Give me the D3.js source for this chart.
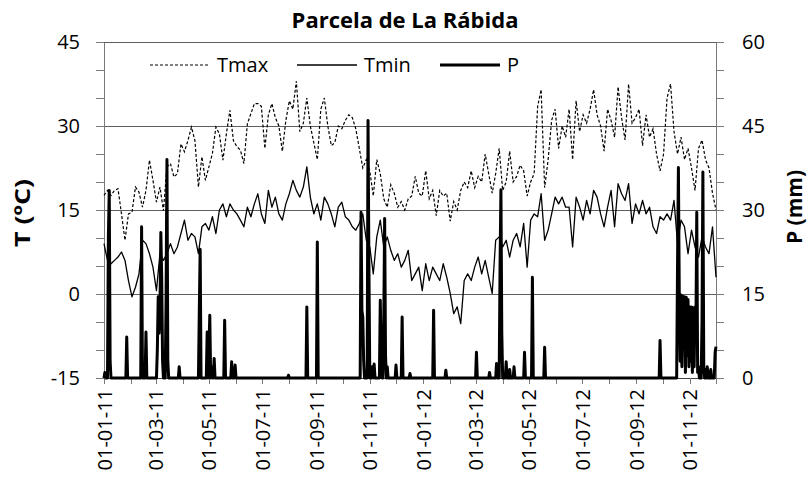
<!DOCTYPE html>
<html>
<head>
<meta charset="utf-8">
<script src="https://cdn.jsdelivr.net/npm/d3@7"></script>
<style>
  body { margin: 0; background: #fff; }
  text { font-family: "Open Sans", sans-serif; fill: #000; }
</style>
</head>
<body>
<div id="chart"></div>
<script>
// daily record, first and last day on the axis
const startDay = new Date(2011, 0, 1)
const endDay = new Date(2012, 11, 1)

// temperatures read every 4 days from 01-01-11
const tempStep = 4
const tmax = [
  17.6, 18.5, 17.6, 18.5, 18.8, 14.3, 9.6, 14.3, 14.6, 19.1, 18.2, 15.5, 18.5, 23.9, 20.3, 16.4,
  19.1, 14.9, 22.7, 23.3, 20.9, 21.5, 26.8, 25.4, 27.4, 29.8, 27.4, 19.1, 24.5, 20.3, 22.7, 25.1,
  29.8, 28.6, 23.9, 28.6, 32.8, 27.4, 26.3, 25.7, 23.3, 30.4, 32.2, 34.0,
  34, 33.5, 26, 32, 34, 31.5, 30, 25.5, 31, 34.5, 33, 38, 29, 30.5, 35, 30,
  27, 24, 33, 35, 30, 26.5, 27, 30, 29.5, 31, 32, 31.5, 29.5, 26, 22.5, 24,
  22, 17.5, 24, 21.5, 17, 15.5, 19.5, 18, 15.5, 16.5, 15, 17,
  17.5, 21, 18, 17.5, 22, 17, 18.5, 14, 18.5, 17.5, 18, 13, 16.5, 15, 18.5, 20,
  19, 22, 19, 21, 20, 25, 21.5, 18, 21.5, 26, 18.5, 20, 25.5, 20, 21, 23,
  22, 17.5, 20, 21.5, 33.5, 36.5, 19, 24, 31, 33, 26, 30, 28,
  33, 24, 34.5, 29, 32, 30.5, 33, 36.5, 32, 30, 25.5, 33, 31, 28, 37, 31.5,
  27.5, 37.5, 30.5, 31.5, 33, 26.5, 32, 28, 29.5, 25, 22, 25, 35, 37.5, 29, 25,
  28, 24, 26, 22.5, 18.5, 26, 27.5, 24, 22.5, 18, 15
]
const tmin = [
  9, 6, 5.4, 6, 6.6, 7.5, 6, 2.4, -0.5, 1.2, 3.6, 9.6, 9, 7.2, 4.8, 0.6,
  7.2, 6, 7.2, 9, 7.2, 8.4, 10.8, 13.2, 9.6, 10.8, 10.2, 7.2, 12, 12.6, 11.4, 13.8,
  10.8, 15, 16.1, 13.8, 16.1, 15, 14.3, 13.2, 12, 15.5, 13.8, 16.1,
  17.9, 14.3, 12.6, 18.5, 15.5, 17.3, 14.3, 13.2, 16.1, 17.9, 20.3, 18.5, 17.3, 19.1, 22.7, 17.3,
  14.3, 16.1, 13.2, 17.3, 16.1, 14.3, 12, 15.5, 16.4, 13.8, 13.2, 12, 11.4, 12.6, 14.3, 9.6,
  8.4, 3.6, 10.2, 13.2, 8.4, 10.2, 7.8, 6, 7.2, 4.8, 6, 7.8,
  2.4, 3.6, 4.8, 0.6, 5.4, 2.4, 4.8, 3.6, 2.4, 5.4, 3, 0.1, -3.5, -2.3, -5.3, 2.4,
  3.6, 2.4, 4.8, 6.6, 3.6, 6, 3, 0.1, 9.6, 10.2, 8.4, 9.6, 6.6, 9.6, 10.8, 8.4,
  12.6, 4.8, 13.2, 14.3, 13.8, 17.9, 9.6, 11.4, 14.3, 17.3, 16.1, 17.3, 15.5,
  15.5, 8.4, 17.3, 15.5, 13.2, 16.7, 14.3, 18.5, 17.3, 14.3, 12, 15.5, 18.5, 12, 19.7, 17.9,
  16.7, 19.7, 12.6, 16.1, 14.3, 16.7, 14.3, 15.5, 12, 10.8, 13.8, 13.2, 14.3, 13.2, 16.7, 9,
  13.2, 12, 7.2, 11.4, 8.4, 6.6, 10.2, 8.4, 7.2, 12, 3
]

// rainy days (days after 01-01-11) and amount in mm; all other days 0
const rainDay = [
  1, 5, 6, 7, 26, 43, 48, 61, 62, 63, 64, 65, 66, 67, 71, 72, 73, 86,
  109, 110, 118, 120, 121, 123, 126, 138, 146, 150, 211, 232, 244,
  294, 295, 296, 297, 302, 303, 305, 307, 309, 316, 317, 320, 321, 322, 324, 334, 341, 350,
  377, 391, 426, 441, 449, 453, 454, 455, 460, 464, 469, 481, 490, 504, 636,
  656, 657, 658, 659, 660, 661, 662, 663, 664, 665, 666, 667, 668, 669, 670, 671, 672, 673,
  674, 675, 676, 677, 678, 679, 680, 682, 684, 685, 686, 688, 690, 692, 694, 699, 700
]
const rainMM = [
  1, 25, 33.5, 3, 7.3, 27, 8.2, 5, 14.5, 8, 12, 26, 18, 3, 14, 39, 3, 2,
  12, 23, 8.2, 5, 11.2, 2, 3.5, 10.3, 2.9, 2.3, 0.5, 12.7, 24.3,
  29.6, 12, 10.9, 3, 46, 20, 2, 2, 2.5, 13.9, 5, 10, 28.5, 4, 2, 2.3, 10.9, 0.8,
  12.1, 1.4, 4.6, 1, 2.6, 20, 33.6, 8, 2.9, 1.5, 2, 4.6, 18, 5.5, 6.7,
  20, 37.6, 14.6, 3, 14.8, 2, 14.6, 6, 14.5, 1, 14.4, 4, 14, 2, 12.7, 3, 12.7, 1,
  12.5, 2, 12.7, 8, 29.6, 1, 2, 1.5, 10, 36.8, 2, 1.5, 2, 1, 1.5, 4.6, 5.6
]

const seriesNames = ["Tmax", "Tmin", "P"]
const tempTicks = [-15, 0, 15, 30, 45]
const rainTicks = [0, 15, 30, 45, 60]

// build the point lists
const tmaxPts = tmax.map((v, i) => ({ date: d3.timeDay.offset(startDay, i * tempStep), v }))
const tminPts = tmin.map((v, i) => ({ date: d3.timeDay.offset(startDay, i * tempStep), v }))
const nDays = d3.timeDay.count(startDay, endDay)
const rain = new Array(nDays + 1).fill(0)
rainDay.forEach((d, i) => { rain[d] = rainMM[i] })
const rainPts = rain.map((v, i) => ({ date: d3.timeDay.offset(startDay, i), v }))

// svg
const width = 809, height = 481
const plot = { left: 104, right: 716, top: 42, bottom: 378 }
const gridColor = "#5e5e5e"
const axisColor = "#7a7a7a"

const svg = d3.select("#chart").append("svg")
    .attr("width", width)
    .attr("height", height)

const x = d3.scaleTime().domain([startDay, endDay]).range([plot.left, plot.right])
const yT = d3.scaleLinear().domain([-15, 45]).range([plot.bottom, plot.top])
const yP = d3.scaleLinear().domain([0, 60]).range([plot.bottom, plot.top])

// horizontal gridlines
svg.append("g")
    .attr("shape-rendering", "crispEdges")
  .selectAll("line")
  .data(tempTicks.slice(1))
  .join("line")
    .attr("x1", plot.left).attr("x2", plot.right)
    .attr("y1", d => yT(d)).attr("y2", d => yT(d))
    .attr("stroke", gridColor)

// axes: minor ticks every 5, labels every 15
const styleAxis = g => {
  g.attr("shape-rendering", "crispEdges")
  g.selectAll("path.domain").attr("stroke", axisColor)
  g.selectAll(".tick line").attr("stroke", axisColor)
  g.selectAll("text").style("font-size", "20px").attr("fill", "#000")
}
const plain = d => String(d)
svg.append("g")
    .attr("transform", `translate(${plot.left},0)`)
    .call(d3.axisLeft(yT).tickValues(d3.range(-15, 46, 5)).tickSize(8).tickSizeOuter(0).tickFormat(""))
    .call(styleAxis)
svg.append("g")
    .attr("transform", `translate(${plot.left},0)`)
    .call(d3.axisLeft(yT).tickValues(tempTicks).tickSize(8).tickPadding(16).tickSizeOuter(0).tickFormat(plain))
    .call(styleAxis)

svg.append("g")
    .attr("transform", `translate(${plot.right},0)`)
    .call(d3.axisRight(yP).tickValues(d3.range(0, 61, 5)).tickSize(8).tickSizeOuter(0).tickFormat(""))
    .call(styleAxis)
svg.append("g")
    .attr("transform", `translate(${plot.right},0)`)
    .call(d3.axisRight(yP).tickValues(rainTicks).tickSize(8).tickPadding(18).tickSizeOuter(0).tickFormat(plain))
    .call(styleAxis)

// x axis, monthly ticks, label every other month
const fmt = d3.timeFormat("%d-%m-%y")
const xAxis = svg.append("g")
    .attr("transform", `translate(0,${plot.bottom})`)
    .call(d3.axisBottom(x)
      .ticks(d3.timeMonth.every(1))
      .tickSize(6)
      .tickSizeOuter(0)
      .tickFormat(d => d.getMonth() % 2 === 0 ? fmt(d) : ""))
    .call(styleAxis)
xAxis.select("path.domain").attr("stroke", "#444")
xAxis.selectAll("text")
    .style("font-size", "20px")
    .attr("transform", "rotate(-90)")
    .attr("text-anchor", "end")
    .attr("x", -11)
    .attr("y", 7)
    .attr("dy", null)

// series
const lineT = d3.line().x(d => x(d.date)).y(d => yT(d.v))
const lineP = d3.line().x(d => x(d.date)).y(d => yP(d.v))

svg.append("path")
    .datum(tmaxPts)
    .attr("d", lineT)
    .attr("fill", "none")
    .attr("stroke", "#000")
    .attr("stroke-width", 1.2)
    .attr("stroke-dasharray", "3,2")

svg.append("path")
    .datum(tminPts)
    .attr("d", lineT)
    .attr("fill", "none")
    .attr("stroke", "#000")
    .attr("stroke-width", 1.3)
    .attr("stroke-linejoin", "round")

svg.append("path")
    .datum(rainPts)
    .attr("d", lineP)
    .attr("fill", "none")
    .attr("stroke", "#000")
    .attr("stroke-width", 3)
    .attr("stroke-linejoin", "round")

// legend
const legendX = [150, 297, 440]
const legendStyle = [
  { w: 1.2, dash: "3,2" },
  { w: 1.3, dash: null },
  { w: 3, dash: null }
]
const legend = svg.append("g")
  .selectAll("g")
  .data(seriesNames)
  .join("g")
    .attr("transform", (d, i) => `translate(${legendX[i]},65)`)
legend.append("line")
    .attr("x1", 0).attr("x2", 60)
    .attr("stroke", "#000")
    .attr("stroke-width", (d, i) => legendStyle[i].w)
    .attr("stroke-dasharray", (d, i) => legendStyle[i].dash)
legend.append("text")
    .attr("x", 67).attr("y", 7)
    .style("font-size", "20px")
    .text(d => d)

// titles
svg.append("text")
    .attr("x", 405).attr("y", 28)
    .attr("text-anchor", "middle")
    .style("font-size", "22px").style("font-weight", "bold")
    .text("Parcela de La Rábida")

svg.append("text")
    .attr("transform", "translate(30,213) rotate(-90)")
    .attr("text-anchor", "middle")
    .attr("textLength", 68)
    .attr("lengthAdjust", "spacingAndGlyphs")
    .style("font-size", "22px").style("font-weight", "bold")
    .text("T (ºC)")

svg.append("text")
    .attr("transform", "translate(802,207) rotate(-90)")
    .attr("text-anchor", "middle")
    .style("font-size", "21px").style("font-weight", "bold")
    .text("P (mm)")
</script>
</body>
</html>
